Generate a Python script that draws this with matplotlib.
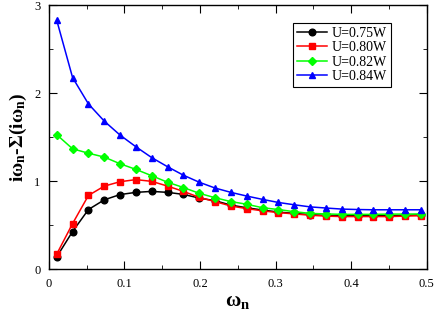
import matplotlib
matplotlib.use("Agg")
import matplotlib.pyplot as plt
from matplotlib.ticker import MultipleLocator, FuncFormatter

plt.rcParams['font.family'] = ['Liberation Serif', 'DejaVu Serif']
plt.rcParams['mathtext.fontset'] = 'custom'
plt.rcParams['mathtext.rm'] = 'Liberation Serif:bold'
plt.rcParams['mathtext.it'] = 'Liberation Serif:bold'
plt.rcParams['mathtext.bf'] = 'Liberation Serif:bold'

# Matsubara frequencies
omega_n = [0.0105, 0.0314, 0.0524, 0.0733, 0.0942, 0.1152, 0.1361, 0.1571,
           0.1780, 0.1990, 0.2199, 0.2408, 0.2618, 0.2827, 0.3037, 0.3246,
           0.3456, 0.3665, 0.3875, 0.4084, 0.4294, 0.4503, 0.4712, 0.4922]

u075 = [0.143, 0.43, 0.68, 0.79, 0.85, 0.875, 0.886, 0.875, 0.852, 0.81, 0.78,
        0.73, 0.70, 0.674, 0.651, 0.636, 0.622, 0.613, 0.61, 0.61, 0.608, 0.61, 0.613, 0.62]
u080 = [0.174, 0.52, 0.84, 0.946, 0.996, 1.02, 1.0, 0.946, 0.886, 0.818, 0.77,
        0.72, 0.69, 0.665, 0.645, 0.63, 0.615, 0.605, 0.60, 0.60, 0.60, 0.60, 0.605, 0.61]
u082 = [1.53, 1.37, 1.32, 1.276, 1.20, 1.136, 1.064, 0.99, 0.93, 0.864, 0.814,
        0.77, 0.74, 0.70, 0.68, 0.655, 0.636, 0.63, 0.625, 0.625, 0.625, 0.628, 0.628, 0.63]
u084 = [2.83, 2.18, 1.88, 1.685, 1.526, 1.393, 1.27, 1.166, 1.07, 0.99, 0.924,
        0.875, 0.833, 0.795, 0.76, 0.734, 0.71, 0.697, 0.685, 0.68, 0.677, 0.677, 0.677, 0.677]

series = [
    (u075, 'U=0.75W', 'black', 'o'),
    (u080, 'U=0.80W', 'red', 's'),
    (u082, 'U=0.82W', '#00ff00', 'D'),
    (u084, 'U=0.84W', 'blue', '^'),
]

fig = plt.figure(figsize=(4.36, 3.18), dpi=100)
ax = fig.add_axes([0.112, 0.153, 0.867, 0.830])

for y, lab, c, m in series:
    ms = 3.8 if m == 'D' else 4.8
    ax.plot(omega_n, y, color=c, marker=m, ms=ms, lw=1.1, label=lab)

ax.set_xlim(0, 0.5)
ax.set_ylim(0, 3)
ax.xaxis.set_major_locator(MultipleLocator(0.1))
ax.xaxis.set_minor_locator(MultipleLocator(0.05))
ax.yaxis.set_major_locator(MultipleLocator(1))
ax.yaxis.set_minor_locator(MultipleLocator(0.5))
ax.xaxis.set_major_formatter(FuncFormatter(lambda v, p: '%g' % round(v, 2)))
ax.tick_params(which='both', direction='in', top=True, right=True, labelsize=9)
ax.tick_params(which='major', length=6, pad=6)
ax.tick_params(which='minor', length=3)
for s in ax.spines.values():
    s.set_linewidth(1.0)

ax.set_xlabel(r'$\omega_n$', fontsize=15, labelpad=2)
ax.set_ylabel(r'$\mathrm{i\omega_n\text{-}\Sigma(i\omega_n)}$', fontsize=14, labelpad=4)

leg = ax.legend(loc='upper right', bbox_to_anchor=(0.905, 0.935), fontsize=10,
                fancybox=False, edgecolor='black', framealpha=1,
                handlelength=2.2, handletextpad=0.3, borderpad=0.3,
                labelspacing=0.1, borderaxespad=0)
leg.get_frame().set_linewidth(0.8)

fig.savefig('out.png', dpi=100)
